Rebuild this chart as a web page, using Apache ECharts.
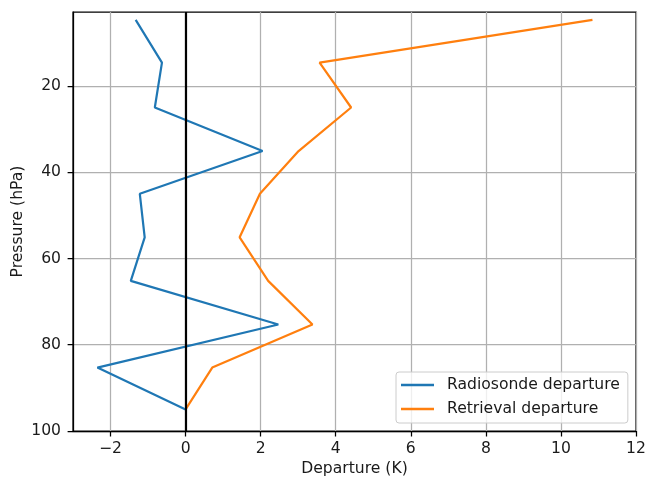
<!DOCTYPE html>
<html>
<head>
<meta charset="utf-8">
<script src="https://cdn.jsdelivr.net/npm/echarts@6/dist/echarts.min.js"></script>
<style>html,body{margin:0;padding:0;background:#fff}#c{width:646px;height:480px}</style>
</head>
<body>
<div id="c"></div>
<script>
var pressure = [4.7, 14.6, 25.0, 35.1, 45.0, 55.1, 65.2, 75.3, 85.3, 95.0];
var radiosonde = [-1.33, -0.63, -0.82, 2.05, -1.22, -1.09, -1.46, 2.47, -2.35, 0.0];
var retrieval = [10.84, 3.57, 4.41, 3.01, 1.98, 1.44, 2.2, 3.38, 0.71, 0.0];
var xTicks = [-2, 0, 2, 4, 6, 8, 10, 12];
var yTicks = [20, 40, 60, 80, 100];

function pairs(xs) { return xs.map(function (v, i) { return [v, pressure[i]]; }); }
var font = 'DejaVu Sans';
var fs = 15.6;
var chart = echarts.init(document.getElementById('c'), null, {renderer: 'canvas'});
chart.setOption({
  animation: false,
  backgroundColor: '#fff',
  grid: {left: 73, right: 10, top: 12, bottom: 49, containLabel: false, outerBoundsMode: 'none',
    show: true, borderColor: '#000', borderWidth: 1.25, backgroundColor: 'transparent'},
  xAxis: {
    type: 'value', min: -3, max: 12,
    name: 'Departure (K)', nameLocation: 'middle', nameGap: 30, nameMoveOverlap: false,
    nameTextStyle: {fontFamily: font, fontSize: fs, color: '#1a1a1a'},
    axisLine: {show: true, onZero: false, lineStyle: {color: '#000', width: 1.25}},
    axisTick: {show: true, length: 5.4, customValues: xTicks, lineStyle: {color: '#000', width: 1.25}},
    axisLabel: {customValues: xTicks, margin: 10, fontFamily: font, fontSize: fs, color: '#1a1a1a',
      formatter: function (v) { return String(v).replace('-', '\u2212'); }},
    splitLine: {show: true, lineStyle: {color: '#b0b0b0', width: 1.25}}
  },
  yAxis: {
    type: 'value', min: 2.86, max: 100, inverse: true,
    name: 'Pressure (hPa)', nameLocation: 'middle', nameGap: 47, nameMoveOverlap: false,
    nameTextStyle: {fontFamily: font, fontSize: fs, color: '#1a1a1a'},
    axisLine: {show: true, onZero: false, lineStyle: {color: '#000', width: 1.25}},
    axisTick: {show: true, length: 5.4, customValues: yTicks, lineStyle: {color: '#000', width: 1.25}},
    axisLabel: {customValues: yTicks, margin: 12, fontFamily: font, fontSize: fs, color: '#1a1a1a'},
    splitLine: {show: true, lineStyle: {color: '#b0b0b0', width: 1.25}}
  },
  legend: {
    orient: 'vertical', left: 396, top: 372,
    padding: [4, 8, 5, 5], itemGap: 6, itemWidth: 33, itemHeight: 2.5,
    backgroundColor: 'rgba(255,255,255,0.8)', borderColor: '#cccccc', borderWidth: 1, borderRadius: 3,
    textStyle: {fontFamily: font, fontSize: fs, color: '#1a1a1a', lineHeight: 18, padding: [0, 0, 0, 8]},
    data: [{name: 'Radiosonde departure', icon: 'rect'}, {name: 'Retrieval departure', icon: 'rect'}]
  },
  series: [
    {name: 'Radiosonde departure', type: 'line', data: pairs(radiosonde), showSymbol: false, symbol: 'none',
      lineStyle: {color: '#1f77b4', width: 2.2}, itemStyle: {color: '#1f77b4'}, z: 3,
      markLine: {silent: true, symbol: 'none', label: {show: false}, animation: false,
        lineStyle: {color: '#000', width: 2.2, type: 'solid'}, data: [{xAxis: 0}]}},
    {name: 'Retrieval departure', type: 'line', data: pairs(retrieval), showSymbol: false, symbol: 'none',
      lineStyle: {color: '#ff7f0e', width: 2.2}, itemStyle: {color: '#ff7f0e'}, z: 3}
  ]
});
</script>
</body>
</html>
